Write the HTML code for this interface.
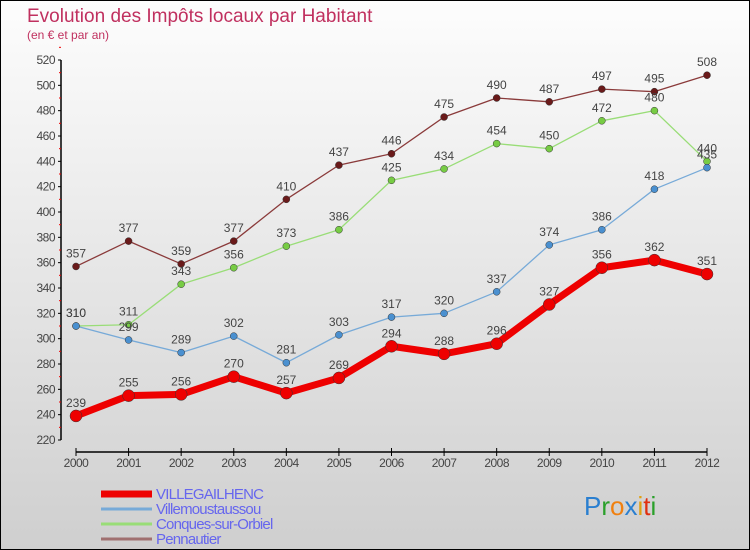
<!DOCTYPE html>
<html><head><meta charset="utf-8">
<style>
body{margin:0}
#c{position:relative;width:748px;height:548px;border:1px solid #000;background:linear-gradient(#fdfdfd,#cfcfcf);overflow:hidden;font-family:"Liberation Sans",sans-serif}
</style></head><body>
<div id="c">
<svg id="s" width="748" height="548"></svg>
</div>
<script>
const years=["2000","2001","2002","2003","2004","2005","2006","2007","2008","2009","2010","2011","2012"];
const villegailhenc=[239,255,256,270,257,269,294,288,296,327,356,362,351];
const villemoustaussou=[310,299,289,302,281,303,317,320,337,374,386,418,435];
const conques=[310,311,343,356,373,386,425,434,454,450,472,480,440];
const pennautier=[357,377,359,377,410,437,446,475,490,487,497,495,508];
const yTicks=[220,240,260,280,300,320,340,360,380,400,420,440,460,480,500,520];
const NS="http://www.w3.org/2000/svg";
const s=document.getElementById('s');
function X(i){return 75+i*(631/12);}
function Y(v){return 59+(520-v)*380/300;}
function el(t,a,p){const e=document.createElementNS(NS,t);for(const k in a)e.setAttribute(k,a[k]);(p||s).appendChild(e);return e;}
function tx(x,y,str,a){const e=el('text',Object.assign({x:x,y:y},a));e.textContent=str;return e;}
let t=tx(26,21,"Evolution des Impôts locaux par Habitant",{fill:"#c0305f","font-size":"19"});

t=tx(26,38,"(en € et par an)",{fill:"#c0305f","font-size":"12"});

// y axis
let ax=el('line',{x1:60,y1:Y(520),x2:60,y2:Y(220),stroke:"#000","stroke-width":1.5});

yTicks.forEach(v=>{el('line',{x1:57,x2:60,y1:Y(v),y2:Y(v),stroke:"#000"});
 el('line',{x1:58,x2:60,y1:Y(v+10),y2:Y(v+10),stroke:"#e00"});
 const l=tx(54,Y(v)+4,v,{fill:"#444","font-size":"12","text-anchor":"end","letter-spacing":"-0.5"});
 });
ax=el('line',{x1:X(0),y1:451,x2:X(12),y2:451,stroke:"#000","stroke-width":1.5});

years.forEach((y,i)=>{el('line',{x1:X(i),x2:X(i),y1:447,y2:455,stroke:"#000"});
 const l=tx(X(i),466,y,{fill:"#444","font-size":"12","text-anchor":"middle","letter-spacing":"-0.5"});
 });
function series(d,color,dot,w,r,name,above){
 const p=el('polyline',{points:d.map((v,i)=>X(i)+","+Y(v)).join(" "),fill:"none",stroke:color,"stroke-width":w,"stroke-linejoin":"round"});
 
 d.forEach((v,i)=>{const c=el('circle',{cx:X(i),cy:Y(v),r:r,fill:dot,stroke:"#333","stroke-width":0.5});
  
  const l=tx(X(i),Y(v)-9,v,{fill:"#444","font-size":"12","text-anchor":"middle"});
  });
}
series(pennautier,"#8a3a3a","#6a1a1a",1.3,3.5,"pennautier");
series(conques,"#99dd77","#77cc44",1.3,3.5,"conques-sur-orbiel");
series(villemoustaussou,"#77aad8","#4a90d0",1.3,3.5,"villemoustaussou");
series(villegailhenc,"#ee0000","#ee0000",7,6,"villegailhenc");
const leg=[["VILLEGAILHENC","#ee0000",7],["Villemoustaussou","#77aad8",3],["Conques-sur-Orbiel","#99dd77",3],["Pennautier","#a07070",3]];
leg.forEach((L,i)=>{const y=492+i*15;
 const g=el('g',{});
 el('line',{x1:100,x2:151,y1:y+1,y2:y+1,stroke:L[1],"stroke-width":L[2]},g);
 tx(155,y+6,L[0],{fill:"#6666ee","font-size":"15","letter-spacing":"-0.8"}).parentNode===s;
 g.appendChild(s.lastChild);});
const logo=[["P","#2a7fd0"],["r","#2aa02a"],["o","#f08010"],["x","#2a7fd0"],["i","#e0a010"],["t","#e03010"],["i","#2aa02a"]];
const lg=el('text',{x:583,y:514,"font-size":"26","font-family":"Liberation Sans,sans-serif"});

logo.forEach(c=>{const ts=el('tspan',{fill:c[1]},lg);ts.textContent=c[0];});
</script>
</body></html>
